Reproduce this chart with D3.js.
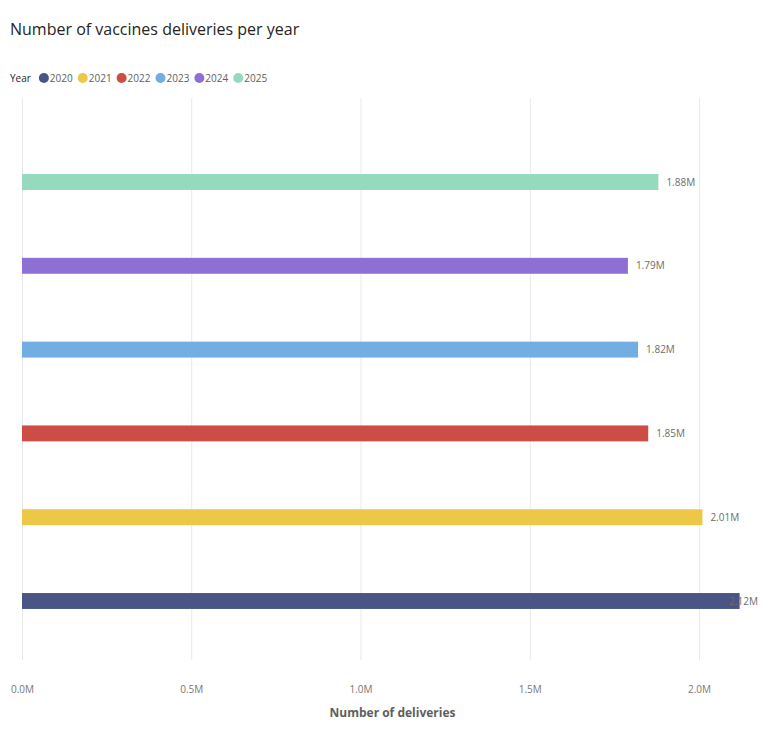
<!DOCTYPE html>
<html>
<head>
<meta charset="utf-8">
<script src="https://cdn.jsdelivr.net/npm/d3@7"></script>
<style>
  body { margin: 0; background: #fff; }
  text { font-family: "Segoe UI", "Open Sans", "Noto Sans", sans-serif; }
</style>
</head>
<body>
<script>
// data
var years = ["2020", "2021", "2022", "2023", "2024", "2025"];
var deliveries = [2.12, 2.01, 1.85, 1.82, 1.79, 1.88]; // millions
var colors = ["#4A5585", "#ECC846", "#CD4C46", "#72AEE1", "#8E6FD3", "#95DABC"];
var xTicks = [0, 0.5, 1.0, 1.5, 2.0];

var W = 784, H = 740;
var plot = {left: 22, right: 699, top: 98, bottom: 660};

var svg = d3.select("body").append("svg")
    .attr("width", W)
    .attr("height", H);

//Title
svg.append("text")
    .attr("x", 10)
    .attr("y", 35)
    .attr("fill", "#252423")
    .style("font-size", "16px")
    .text("Number of vaccines deliveries per year");

//Legend
var legend = svg.append("g").attr("transform", "translate(10,78)");
var yearLbl = legend.append("text")
    .attr("x", 0)
    .attr("dy", "0.35em")
    .attr("fill", "#252423")
    .style("font-size", "10px")
    .text("Year");
var cx = yearLbl.node().getComputedTextLength() + 13;
years.forEach(function(y, i) {
    legend.append("circle")
        .attr("cx", cx)
        .attr("cy", 0)
        .attr("r", 5)
        .attr("fill", colors[i]);
    var t = legend.append("text")
        .attr("x", cx + 6)
        .attr("dy", "0.35em")
        .attr("fill", "#605E5C")
        .style("font-size", "10px")
        .text(y);
    cx += 6 + t.node().getComputedTextLength() + 10;
});

//Scales
var xScale = d3.scaleLinear().domain([0, 2.0]).range([plot.left, plot.right]);
var step = 83.8;
var yScale = d3.scaleBand()
    .domain(years.slice().reverse())
    .range([182 - step / 2, 182 - step / 2 + step * years.length])
    .paddingInner(0.81)
    .paddingOuter(0.405);

//Gridlines
svg.append("g")
    .selectAll("line")
    .data(xTicks).enter()
    .append("line")
    .attr("x1", function(d) { return xScale(d) + 0.5; })
    .attr("x2", function(d) { return xScale(d) + 0.5; })
    .attr("y1", plot.top)
    .attr("y2", plot.bottom)
    .attr("stroke", "#E9E9E9")
    .attr("stroke-width", 1);

//X axis labels
var xAxis = d3.axisBottom(xScale)
    .tickValues(xTicks)
    .tickSize(0)
    .tickFormat(function(d) { return d3.format(".1f")(d) + "M"; });
var gx = svg.append("g")
    .attr("transform", "translate(0," + 683 + ")")
    .call(xAxis);
gx.select(".domain").remove();
gx.selectAll("text")
    .attr("fill", "#777777")
    .style("font-size", "10px");

svg.append("text")
    .attr("x", (plot.left + plot.right) / 2 + 32)
    .attr("y", 717)
    .attr("text-anchor", "middle")
    .attr("fill", "#605E5C")
    .style("font-size", "12px")
    .style("font-weight", "bold")
    .text("Number of deliveries");

//Bars
svg.append("g")
    .selectAll("rect")
    .data(years).enter()
    .append("rect")
    .attr("x", xScale(0))
    .attr("y", function(d) { return yScale(d); })
    .attr("width", function(d, i) { return xScale(deliveries[i]) - xScale(0); })
    .attr("height", yScale.bandwidth())
    .attr("fill", function(d, i) { return colors[i]; });

//Data labels (pushed inside the plot when they would overflow)
svg.append("g")
    .selectAll("text")
    .data(years).enter()
    .append("text")
    .attr("y", function(d) { return yScale(d) + yScale.bandwidth() / 2; })
    .attr("dy", "0.35em")
    .attr("fill", "#6E6C6A")
    .style("font-size", "10px")
    .text(function(d, i) { return d3.format(".2f")(deliveries[i]) + "M"; })
    .attr("x", function(d, i) {
        var w = this.getComputedTextLength();
        var x = xScale(deliveries[i]) + 8;
        return Math.min(x, 758 - w);
    });
</script>
</body>
</html>
